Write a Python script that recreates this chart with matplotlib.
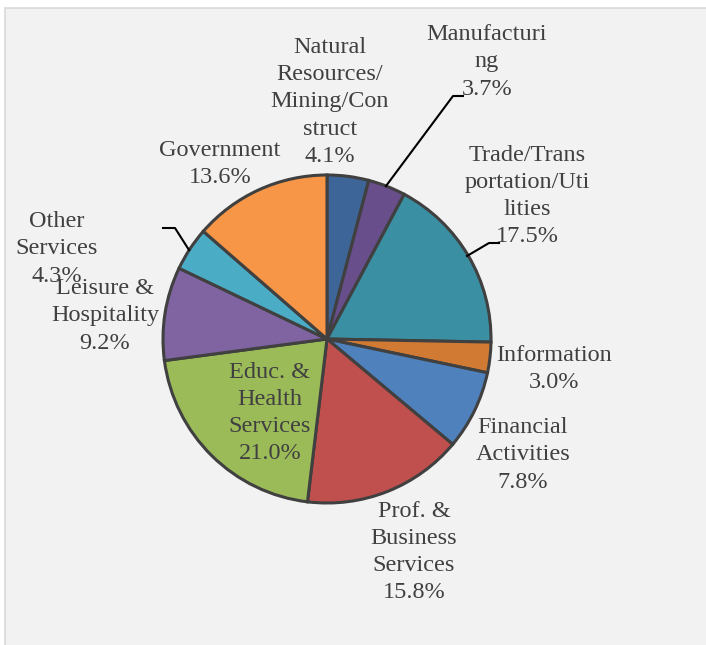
import matplotlib
matplotlib.use("Agg")
import matplotlib.pyplot as plt
from matplotlib.patches import Rectangle

# ---- data ----
labels = ["Natural\nResources/\nMining/Con\nstruct", "Manufacturi\nng", "Trade/Trans\nportation/Uti\nlities",
          "Information", "Financial\nActivities", "Prof. &\nBusiness\nServices",
          "Educ. &\nHealth\nServices", "Leisure &\nHospitality", "Other\nServices", "Government"]
values = [4.1, 3.7, 17.5, 3.0, 7.8, 15.8, 21.0, 9.2, 4.3, 13.6]
colors = ["#3d6597", "#684e8a", "#3a8fa3", "#d07a33", "#4f81bd", "#c0504d",
          "#9bbb59", "#8064a2", "#4bacc6", "#f79646"]

fam = ["Liberation Serif", "DejaVu Serif"]

W, H = 706, 645
fig = plt.figure(figsize=(W / 100, H / 100), dpi=100)
fig.patch.set_facecolor("white")
ax = fig.add_axes([0, 0, 1, 1])

def Y(y):
    return H - y

cx, cy, r = 327, 339, 164
wedges, _ = ax.pie(values, colors=colors, startangle=90, counterclock=False,
                   center=(cx, Y(cy)), radius=r,
                   wedgeprops=dict(edgecolor="#404040", linewidth=2.2))
for w in wedges:
    w.set_zorder(2)

ax.set_xlim(0, W)
ax.set_ylim(0, H)
ax.set_aspect("equal")
ax.axis("off")

# background panel
ax.add_patch(Rectangle((4.5, -5), W + 10, Y(8) + 5, facecolor="#f2f2f2",
                       edgecolor="#d9d9d9", linewidth=1.2, zorder=0))

# label positions (centre of text block, pixels)
pos = [(330, 102), (487, 62), (527, 196), (554, 369), (523, 455), (414, 552),
       (270, 413), (105, 316), (57, 249), (220, 164)]
txtc = "#404040"
for lab, v, (x, y) in zip(labels, values, pos):
    ax.text(x, Y(y), f"{lab}\n{v:.1f}%", ha="center", va="center", fontsize=17.5,
            family=fam, color=txtc, linespacing=1.38, zorder=5)

# leader lines
leaders = [[(386, 186), (453, 96), (463, 96)],
           [(467, 256), (489, 243), (499, 243)],
           [(189, 250), (175, 228), (163, 228)]]
for pts in leaders:
    ax.plot([p[0] for p in pts], [Y(p[1]) for p in pts], color="black", lw=1.5, zorder=4)

fig.savefig("out.png", dpi=100, facecolor="white")
